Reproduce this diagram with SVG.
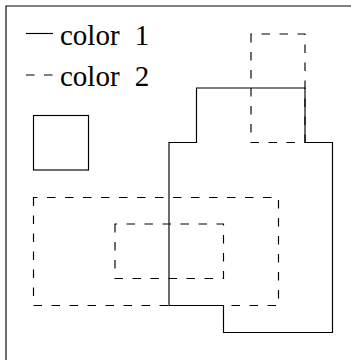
<svg xmlns="http://www.w3.org/2000/svg" width="351" height="360" viewBox="0 0 351 360">
<style>
.s{fill:none;stroke:#000;stroke-width:1.15}
.d{fill:none;stroke:#000;stroke-width:1.15;stroke-dasharray:8.5 9.5}
.t{font-family:"Liberation Serif","Times New Roman",serif;font-size:29px;fill:#000;word-spacing:8px}
</style>
<rect width="351" height="360" fill="#fff"/>
<g id="frame"><path class="s" d="M6,360 V6 H351" stroke="#444"/></g>
<g id="legend">
<line class="s" x1="26" y1="33.5" x2="53" y2="33.5"/>
<text class="t" x="60" y="45">color 1</text>
<line class="d" x1="26" y1="75" x2="53" y2="75"/>
<text class="t" x="60" y="85.5">color 2</text>
</g>
<g id="square"><rect class="s" x="33.5" y="115.5" width="55" height="54.5"/></g>
<g id="dashed-top"><path class="d" d="M251,34 V142.5 H305 V34 Z"/></g>
<g id="dashed-big"><path class="d" d="M33.5,197.5 V305.5 H278.5 V197.5 Z"/></g>
<g id="dashed-inner"><path class="d" d="M115,224 V278.5 H223.5 V224 Z"/></g>
<g id="solid-shape"><path class="s" d="M169,142.5 H196.5 V88 H305 V142.5 H332.5 V332.5 H223.5 V305.5 H169 Z"/></g>
</svg>
